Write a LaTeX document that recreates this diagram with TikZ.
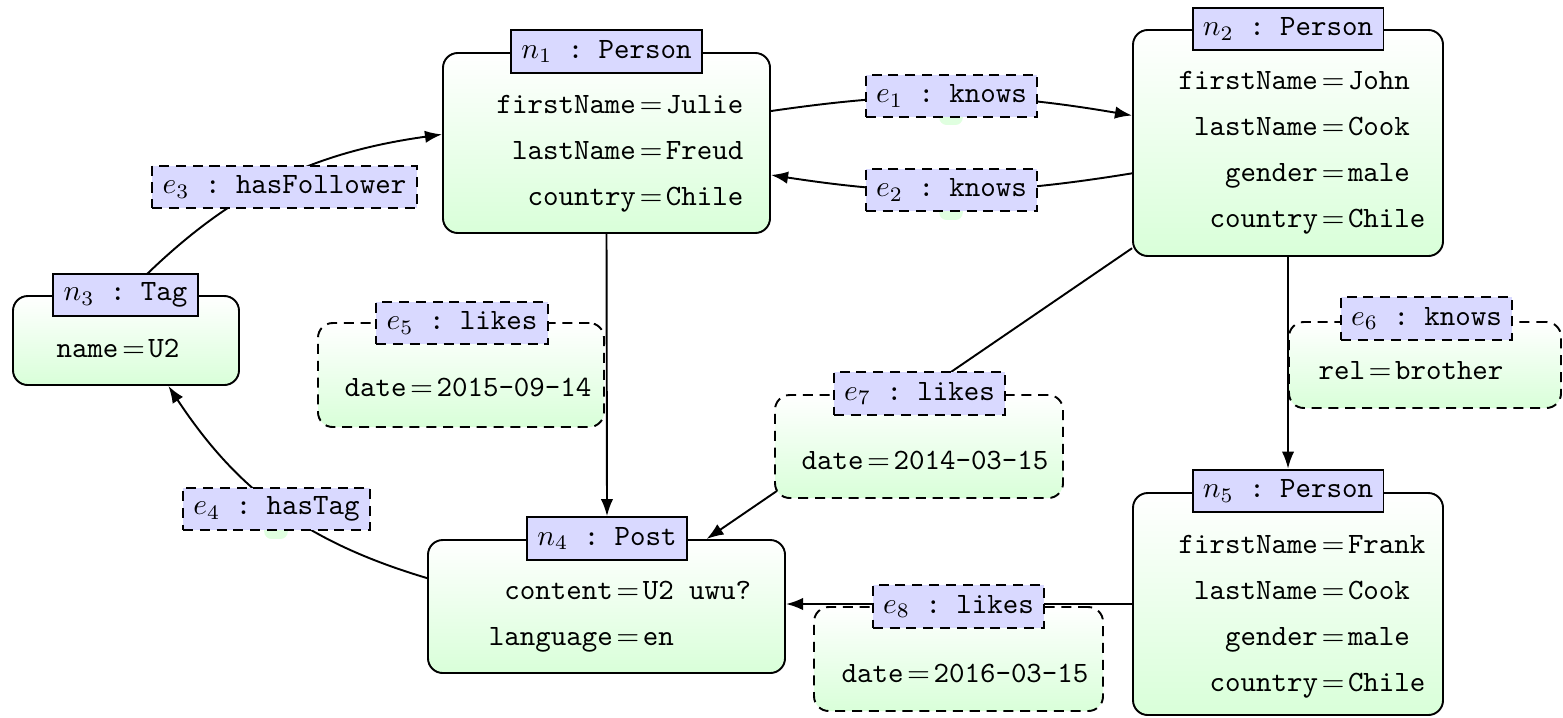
\documentclass[tikz,border=0pt]{standalone}
\usetikzlibrary{arrows.meta,fit,backgrounds}
\renewcommand{\arraystretch}{1.3}
\newcommand{\proptab}[1]{\begin{tabular}{@{}r@{\hspace{1.2pt}$=$\hspace{1.2pt}}l@{}}#1\end{tabular}}
\tikzset{
  nbox/.style={draw, line width=0.65pt, rounded corners=5pt, top color=white, bottom color=green!15, inner sep=0pt},
  ebox/.style={nbox, dash pattern=on 3.4pt off 2.3pt},
  ntitle/.style={draw, line width=0.65pt, fill=blue!15, inner xsep=3.5pt, inner ysep=0pt, minimum height=14.5pt},
  etitle/.style={ntitle, dash pattern=on 3.4pt off 2.3pt},
  props/.style={inner sep=0pt, font=\ttfamily},
  blob/.style={fill=green!12, rounded corners=2.5pt, minimum width=8pt, minimum height=5.4pt, inner sep=0pt},
  conn/.style={line width=0.65pt},
  arr/.style={conn, -{Latex[length=5.8pt,width=4.2pt]}},
}
\begin{document}
\begin{tikzpicture}[x=0.339pt, y=-0.339pt]
\useasboundingbox (0,0) rectangle (1563,717);
% vertices
\node[nbox, fit={(443,53)(770,233)}] (n1) {};
\node[ntitle] (n1t) at (606.5,51.5) {$n_1$\texttt{\ :\ Person}};
\node[props] (n1p) at (620,150) {\proptab{firstName & Julie\\ lastName & Freud\\ country & Chile}};

\node[nbox, fit={(1133,30)(1443,256)}] (n2) {};
\node[ntitle] (n2t) at (1288,29) {$n_2$\texttt{\ :\ Person}};
\node[props] (n2p) at (1302,149.5) {\proptab{firstName & John\\ lastName & Cook\\ gender & male\\ country & Chile}};

\node[nbox, fit={(13,296)(239,385)}] (n3) {};
\node[ntitle] (n3t) at (125.5,295) {$n_3$\texttt{\ :\ Tag}};
\node[props] (n3p) at (118,348) {\proptab{name & U2}};

\node[nbox, fit={(428,540)(785,673)}] (n4) {};
\node[ntitle] (n4t) at (607,538.5) {$n_4$\texttt{\ :\ Post}};
\node[props] (n4p) at (620,613) {\proptab{content & U2 uwu?\\ language & en}};

\node[nbox, fit={(1133,493)(1443,715)}] (n5) {};
\node[ntitle] (n5t) at (1288,491) {$n_5$\texttt{\ :\ Person}};
\node[props] (n5p) at (1302,613) {\proptab{firstName & Frank\\ lastName & Cook\\ gender & male\\ country & Chile}};

% connectors
\begin{scope}[on background layer]
\draw[arr] (n1.11) to[bend left=9] (n2.170);
\draw[arr] (n2.191) to[bend left=9] (n1.349);
\draw[arr] (n3.north) to[bend left=19] (n1.177);
\draw[arr] (n4.171) to[bend left=20] (n3.313);
\draw[arr] (n1.south) -- (n4t.north);
\draw[arr] (n2.south) -- (n5t.north);
\draw[arr] (n2.214) -- (n4.34);
\draw[arr] (n5.west) -- (n5.west -| n4.east);
\end{scope}

% small property patches
\node[blob] (b1) at (951,117) {};
\node[blob] (b2) at (951,212) {};
\node[blob] (b4) at (276,531) {};

% edge property boxes
\node[ebox, fit={(318,323)(604,427)}] (e5b) {};
\node[props] (e5p) at (468,387) {\proptab{date & 2015-09-14}};
\node[etitle] (e5) at (462,323) {$e_5$\texttt{\ :\ likes}};

\node[ebox, fit={(1289,322)(1561,408)}] (e6b) {};
\node[props] (e6p) at (1411,370) {\proptab{rel & brother}};
\node[etitle] (e6) at (1426.5,318.5) {$e_6$\texttt{\ :\ knows}};

\node[ebox, fit={(775,395)(1063,498)}] (e7b) {};
\node[props] (e7p) at (925,460) {\proptab{date & 2014-03-15}};
\node[etitle] (e7) at (919.5,393.5) {$e_7$\texttt{\ :\ likes}};

\node[ebox, fit={(814,607)(1103,711)}] (e8b) {};
\node[props] (e8p) at (965,673) {\proptab{date & 2016-03-15}};
\node[etitle] (e8) at (958.5,606.5) {$e_8$\texttt{\ :\ likes}};

% edge labels
\node[etitle] (e1) at (951.5,96) {$e_1$\texttt{\ :\ knows}};
\node[etitle] (e2) at (951.5,190) {$e_2$\texttt{\ :\ knows}};
\node[etitle] (e3) at (284.5,187) {$e_3$\texttt{\ :\ hasFollower}};
\node[etitle] (e4) at (276.5,509) {$e_4$\texttt{\ :\ hasTag}};
\end{tikzpicture}
\end{document}
